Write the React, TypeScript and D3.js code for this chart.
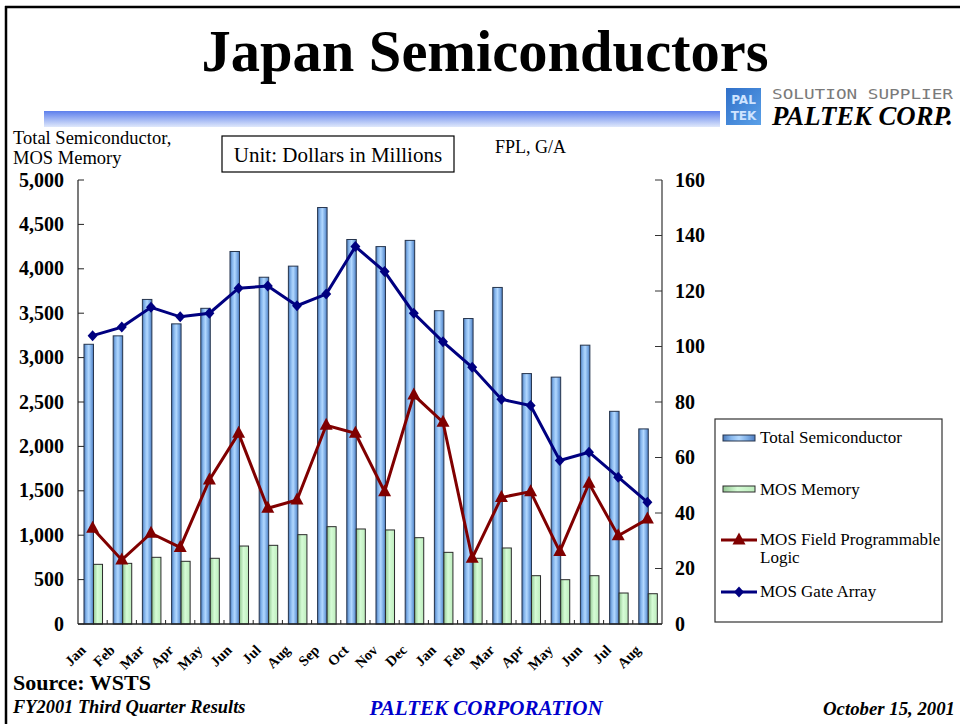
import React from "react";
import * as d3 from "d3";

const months = ["Jan","Feb","Mar","Apr","May","Jun","Jul","Aug","Sep","Oct","Nov","Dec","Jan","Feb","Mar","Apr","May","Jun","Jul","Aug"];
const totalSemi = [3150,3245,3655,3380,3555,4195,3905,4030,4690,4330,4250,4320,3528,3440,3790,2820,2780,3140,2395,2197];
const mosMemory = [672,683,751,706,740,878,886,1006,1096,1070,1059,972,807,740,856,544,499,544,349,341];
const mosFPL = [34.5,23.1,32.7,27.6,51.9,68.7,41.7,44.7,71.6,68.7,47.7,82.5,72.7,23.7,45.6,47.7,26.1,50.7,31.8,37.8];
const mosGateArray = [103.9,107.0,114.1,110.7,112.0,121.0,121.8,114.7,118.9,136.0,127.0,112.0,101.7,92.5,81.0,78.7,58.9,61.9,52.9,43.9];
const leftTicks = [0,500,1000,1500,2000,2500,3000,3500,4000,4500,5000];
const rightTicks = [0,20,40,60,80,100,120,140,160];
const legendItems = ["Total Semiconductor","MOS Memory","MOS Field Programmable|Logic","MOS Gate Array"];

const serif = "'Liberation Serif', 'Times New Roman', serif";

export default function App() {
  const xS = d3.scaleBand<number>().domain(d3.range(months.length)).range([78, 662]).padding(0);
  const bw = xS.bandwidth();
  const yL = d3.scaleLinear().domain([0, 5000]).range([624, 180]);
  const yR = d3.scaleLinear().domain([0, 160]).range([624, 180]);
  const cx = (i: number) => (xS(i) as number) + bw / 2;
  const line = d3.line<number>().x((_, i) => cx(i)).y((d) => yR(d));
  const fmt = d3.format(",");
  const diamond = "M0,-5.5L5,0L0,5.5L-5,0Z";
  const tri = "M0,-7.5L6.5,4.5L-6.5,4.5Z";

  return (
    <svg width={960} height={724} style={{ position: "absolute", left: 0, top: 0, background: "#fff" }} fontFamily={serif}>
      <defs>
        <linearGradient id="band" x1="0" y1="0" x2="0" y2="1">
          <stop offset="0%" stopColor="#5d7fec" />
          <stop offset="100%" stopColor="#dfe8fb" />
        </linearGradient>
        <linearGradient id="gBlue" x1="0" y1="0" x2="1" y2="0">
          <stop offset="0%" stopColor="#4a78b8" />
          <stop offset="25%" stopColor="#86b6ec" />
          <stop offset="50%" stopColor="#b2d8ff" />
          <stop offset="75%" stopColor="#7eaee6" />
          <stop offset="100%" stopColor="#4d7cc0" />
        </linearGradient>
        <linearGradient id="gGreen" x1="0" y1="0" x2="1" y2="0">
          <stop offset="0%" stopColor="#94c894" />
          <stop offset="45%" stopColor="#d6fcd6" />
          <stop offset="100%" stopColor="#bcecbc" />
        </linearGradient>
        <linearGradient id="logoG" x1="0" y1="0" x2="1" y2="1">
          <stop offset="0%" stopColor="#2f6fc8" />
          <stop offset="100%" stopColor="#5aa0e8" />
        </linearGradient>
      </defs>

      {/* page frame */}
      <rect x={0} y={0} width={960} height={724} fill="#fff" />
      <line x1={5} y1={7} x2={960} y2={7} stroke="#000" strokeWidth={2.5} />
      <line x1={6} y1={6} x2={6} y2={724} stroke="#000" strokeWidth={2.5} />

      {/* title */}
      <text x={485} y={71} textAnchor="middle" fontSize={58.5} fontWeight="bold">Japan Semiconductors</text>
      <rect x={44} y={111} width={676} height={16} fill="url(#band)" />

      {/* logo */}
      <rect x={726} y={88} width={35} height={37} fill="url(#logoG)" />
      <text x={743.5} y={104} textAnchor="middle" fontSize={12} fill="#cfe4ff" fontFamily="'DejaVu Sans'" fontWeight="bold">PAL</text>
      <text x={743.5} y={120} textAnchor="middle" fontSize={12} fill="#cfe4ff" fontFamily="'DejaVu Sans'" fontWeight="bold">TEK</text>
      <text x={772} y={99} fontSize={14} fill="#7a7a7a" fontFamily="'DejaVu Sans Mono', monospace" textLength={181} lengthAdjust="spacingAndGlyphs">SOLUTION SUPPLIER</text>
      <text x={772} y={125} fontSize={27} fontWeight="bold" fontStyle="italic" textLength={181} lengthAdjust="spacingAndGlyphs">PALTEK CORP.</text>

      {/* headings */}
      <text x={13} y={144} fontSize={18.5}>Total Semiconductor,</text>
      <text x={13} y={164} fontSize={18.5}>MOS Memory</text>
      <rect x={222} y={136} width={232} height={36} fill="#fff" stroke="#000" strokeWidth={1.2} />
      <text x={338} y={162} textAnchor="middle" fontSize={21}>Unit: Dollars in Millions</text>
      <text x={495} y={153} fontSize={18}>FPL, G/A</text>

      {/* bars */}
      {totalSemi.map((v, i) => (
        <rect key={"t" + i} x={(xS(i) as number) + bw * 0.205} y={yL(v)} width={bw * 0.325} height={624 - yL(v)} fill="url(#gBlue)" stroke="#26354d" strokeWidth={1} />
      ))}
      {mosMemory.map((v, i) => (
        <rect key={"m" + i} x={(xS(i) as number) + bw * 0.53} y={yL(v)} width={bw * 0.31} height={624 - yL(v)} fill="url(#gGreen)" stroke="#2a2a2a" strokeWidth={1} />
      ))}

      {/* axes */}
      <line x1={78} y1={180} x2={78} y2={624} stroke="#222" strokeWidth={1.2} />
      <line x1={662} y1={180} x2={662} y2={624} stroke="#333" strokeWidth={1.2} />
      <line x1={78} y1={624} x2={662} y2={624} stroke="#222" strokeWidth={1.5} />
      {leftTicks.map((t) => (
        <g key={"l" + t}>
          <line x1={78} x2={84} y1={yL(t)} y2={yL(t)} stroke="#222" />
          <text x={64} y={yL(t) + 6.5} textAnchor="end" fontSize={20} fontWeight="bold">{fmt(t)}</text>
        </g>
      ))}
      {rightTicks.map((t) => (
        <g key={"r" + t}>
          <line x1={655} x2={662} y1={yR(t)} y2={yR(t)} stroke="#333" />
          <text x={675} y={yR(t) + 6.5} fontSize={20} fontWeight="bold">{t}</text>
        </g>
      ))}
      {d3.range(1, months.length).map((i) => (
        <line key={"c" + i} x1={xS(i) as number} x2={xS(i) as number} y1={624} y2={620} stroke="#222" />
      ))}
      {months.map((m, i) => (
        <text key={"x" + i} transform={`translate(${cx(i) - 6},${651}) rotate(-45)`} textAnchor="end" fontSize={14.5} fontWeight="bold">{m}</text>
      ))}

      {/* lines */}
      <path d={line(mosGateArray) as string} fill="none" stroke="#000080" strokeWidth={3} />
      {mosGateArray.map((v, i) => (
        <path key={"g" + i} d={diamond} transform={`translate(${cx(i)},${yR(v)})`} fill="#000080" />
      ))}
      <path d={line(mosFPL) as string} fill="none" stroke="#800000" strokeWidth={3} />
      {mosFPL.map((v, i) => (
        <path key={"f" + i} d={tri} transform={`translate(${cx(i)},${yR(v)})`} fill="#800000" />
      ))}

      {/* legend */}
      <rect x={715} y={419} width={227} height={203} fill="#fff" stroke="#333" strokeWidth={1.2} />
      <rect x={723} y={435} width={32} height={6} fill="url(#gBlue)" stroke="#26354d" />
      <text x={760} y={443} fontSize={17}>{legendItems[0]}</text>
      <rect x={723} y={486} width={32} height={6} fill="url(#gGreen)" stroke="#2a2a2a" />
      <text x={760} y={495} fontSize={17}>{legendItems[1]}</text>
      <line x1={721} x2={757} y1={540} y2={540} stroke="#800000" strokeWidth={3} />
      <path d={tri} transform="translate(739,540)" fill="#800000" />
      {legendItems[2].split("|").map((s, k) => (
        <text key={"lg" + k} x={760} y={545 + k * 18} fontSize={17}>{s}</text>
      ))}
      <line x1={721} x2={757} y1={592} y2={592} stroke="#000080" strokeWidth={3} />
      <path d={diamond} transform="translate(739,592)" fill="#000080" />
      <text x={760} y={597} fontSize={17}>{legendItems[3]}</text>

      {/* footer */}
      <text x={13} y={690} fontSize={22} fontWeight="bold">Source: WSTS</text>
      <text x={13} y={713} fontSize={18.4} fontWeight="bold" fontStyle="italic">FY2001 Third Quarter Results</text>
      <text x={486} y={715} textAnchor="middle" fontSize={21} fontWeight="bold" fontStyle="italic" fill="#0000cc">PALTEK CORPORATION</text>
      <text x={955} y={715} textAnchor="end" fontSize={18.8} fontWeight="bold" fontStyle="italic">October 15, 2001</text>
    </svg>
  );
}
